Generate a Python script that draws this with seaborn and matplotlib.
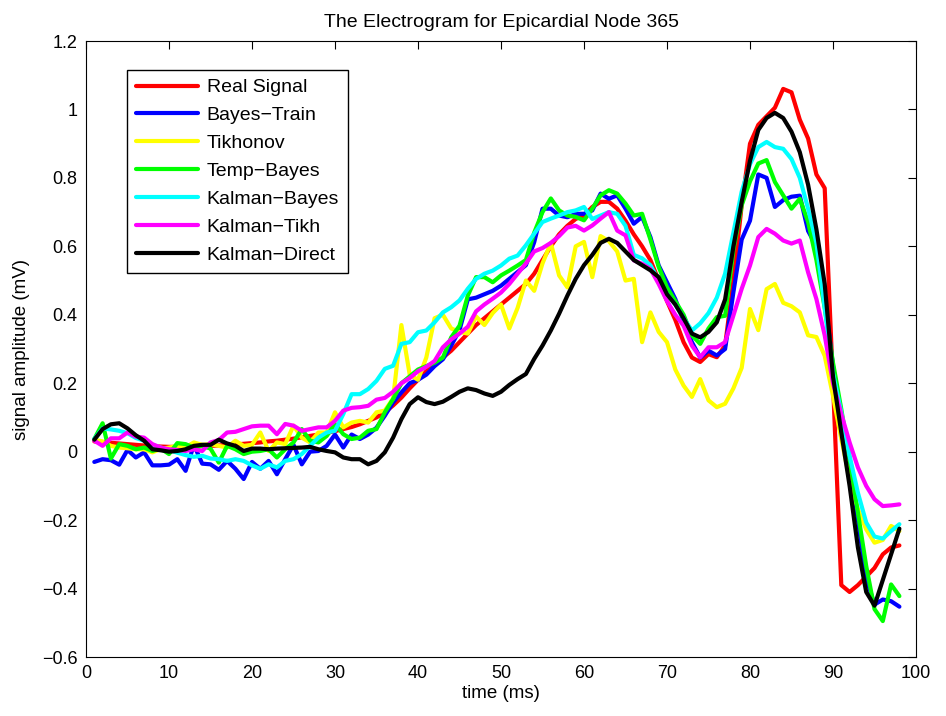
import matplotlib
matplotlib.use("Agg")
import matplotlib.pyplot as plt
import pandas as pd
import seaborn as sns

# ---------------- data ----------------
time_ms = list(range(1, 99))

real_signal = [
    0.030, 0.028, 0.026, 0.024, 0.022, 0.020, 0.018, 0.016, 0.015, 0.014,
    0.014, 0.014, 0.015, 0.016, 0.017, 0.018, 0.020, 0.021, 0.023, 0.025,
    0.027, 0.030, 0.032, 0.035, 0.038, 0.042, 0.046, 0.050, 0.055, 0.060,
    0.066, 0.072, 0.080, 0.090, 0.100, 0.115, 0.135, 0.158, 0.185, 0.210,
    0.235, 0.255, 0.275, 0.295, 0.320, 0.345, 0.370, 0.390, 0.410, 0.430,
    0.450, 0.470, 0.490, 0.520, 0.560, 0.600, 0.635, 0.660, 0.680, 0.690,
    0.715, 0.730, 0.730, 0.710, 0.675, 0.635, 0.600, 0.560, 0.500, 0.440,
    0.385, 0.320, 0.275, 0.262, 0.285, 0.276, 0.310, 0.500, 0.720, 0.900,
    0.955, 0.980, 1.005, 1.060, 1.050, 0.970, 0.915, 0.810, 0.770, 0.200,
    -0.390, -0.410, -0.390, -0.365, -0.340, -0.300, -0.280, -0.274]

bayes_train = [
    -0.030, -0.022, -0.025, -0.038, 0.005, -0.017, -0.002, -0.040, -0.040, -0.038,
    -0.022, -0.056, 0.020, -0.035, -0.037, -0.053, -0.027, -0.050, -0.080, -0.030,
    -0.050, -0.027, -0.066, -0.022, 0.020, -0.037, 0.000, 0.002, 0.017, 0.050,
    0.012, 0.050, 0.037, 0.050, 0.070, 0.105, 0.144, 0.173, 0.200, 0.210,
    0.225, 0.250, 0.270, 0.310, 0.355, 0.445, 0.450, 0.460, 0.470, 0.485,
    0.505, 0.525, 0.545, 0.612, 0.710, 0.710, 0.690, 0.685, 0.695, 0.695,
    0.705, 0.754, 0.739, 0.749, 0.710, 0.666, 0.686, 0.627, 0.544, 0.495,
    0.446, 0.380, 0.320, 0.275, 0.295, 0.281, 0.300, 0.466, 0.620, 0.675,
    0.810, 0.800, 0.715, 0.735, 0.745, 0.748, 0.645, 0.600, 0.450, 0.250,
    0.100, -0.050, -0.200, -0.370, -0.447, -0.432, -0.437, -0.453]

tikhonov = [
    0.035, 0.030, 0.017, 0.012, 0.010, 0.007, 0.007, -0.002, 0.008, 0.012,
    0.017, 0.013, 0.027, 0.020, 0.022, 0.017, 0.012, 0.032, 0.017, 0.020,
    0.056, 0.002, 0.027, 0.022, 0.076, 0.041, 0.027, 0.056, 0.056, 0.115,
    0.071, 0.085, 0.090, 0.085, 0.115, 0.120, 0.155, 0.370, 0.225, 0.210,
    0.275, 0.390, 0.400, 0.360, 0.350, 0.345, 0.395, 0.370, 0.405, 0.430,
    0.360, 0.420, 0.500, 0.470, 0.550, 0.610, 0.515, 0.480, 0.600, 0.613,
    0.510, 0.630, 0.615, 0.585, 0.500, 0.505, 0.320, 0.407, 0.350, 0.320,
    0.240, 0.193, 0.160, 0.212, 0.150, 0.130, 0.140, 0.185, 0.245, 0.417,
    0.355, 0.475, 0.490, 0.435, 0.425, 0.407, 0.340, 0.335, 0.280, 0.163,
    0.037, -0.080, -0.168, -0.227, -0.266, -0.258, -0.217, -0.232]

temp_bayes = [
    0.037, 0.083, -0.020, 0.022, 0.017, 0.007, 0.012, 0.002, 0.009, -0.007,
    0.025, 0.022, 0.012, 0.017, 0.009, -0.032, 0.017, 0.007, -0.007, 0.000,
    0.002, 0.007, -0.017, 0.007, 0.027, 0.066, 0.032, 0.027, 0.046, 0.081,
    0.051, 0.037, 0.041, 0.061, 0.066, 0.115, 0.154, 0.200, 0.220, 0.240,
    0.250, 0.260, 0.275, 0.334, 0.368, 0.456, 0.510, 0.510, 0.495, 0.515,
    0.529, 0.544, 0.560, 0.640, 0.700, 0.740, 0.705, 0.690, 0.686, 0.676,
    0.710, 0.749, 0.764, 0.754, 0.725, 0.690, 0.695, 0.620, 0.540, 0.480,
    0.440, 0.400, 0.340, 0.315, 0.360, 0.393, 0.397, 0.590, 0.720, 0.790,
    0.842, 0.852, 0.788, 0.749, 0.710, 0.739, 0.671, 0.560, 0.420, 0.260,
    0.124, -0.022, -0.178, -0.334, -0.460, -0.495, -0.388, -0.422]

kalman_bayes = [
    0.037, 0.068, 0.065, 0.061, 0.054, 0.040, 0.032, 0.020, 0.012, 0.005,
    -0.003, -0.010, -0.015, -0.012, -0.020, -0.022, -0.027, -0.022, -0.027, -0.040,
    -0.050, -0.037, -0.046, -0.027, -0.022, -0.007, 0.017, 0.041, 0.056, 0.061,
    0.110, 0.168, 0.168, 0.183, 0.207, 0.242, 0.251, 0.315, 0.320, 0.349,
    0.354, 0.378, 0.407, 0.422, 0.442, 0.476, 0.505, 0.520, 0.529, 0.544,
    0.564, 0.573, 0.603, 0.637, 0.671, 0.681, 0.690, 0.700, 0.705, 0.715,
    0.680, 0.690, 0.700, 0.695, 0.660, 0.575, 0.565, 0.545, 0.500, 0.460,
    0.430, 0.390, 0.354, 0.375, 0.405, 0.450, 0.520, 0.640, 0.760, 0.840,
    0.890, 0.905, 0.890, 0.885, 0.855, 0.800, 0.710, 0.610, 0.420, 0.230,
    0.115, -0.012, -0.120, -0.207, -0.248, -0.254, -0.232, -0.212]

kalman_tikh = [
    0.032, 0.017, 0.039, 0.039, 0.056, 0.044, 0.041, 0.022, 0.012, 0.007,
    0.005, 0.002, 0.007, 0.002, 0.027, 0.034, 0.056, 0.058, 0.066, 0.074,
    0.076, 0.076, 0.051, 0.081, 0.076, 0.061, 0.066, 0.071, 0.071, 0.090,
    0.120, 0.128, 0.130, 0.134, 0.152, 0.157, 0.175, 0.200, 0.215, 0.235,
    0.248, 0.265, 0.305, 0.328, 0.345, 0.365, 0.410, 0.430, 0.447, 0.465,
    0.490, 0.520, 0.550, 0.585, 0.595, 0.610, 0.630, 0.655, 0.660, 0.646,
    0.661, 0.681, 0.700, 0.646, 0.632, 0.559, 0.549, 0.534, 0.490, 0.440,
    0.400, 0.368, 0.310, 0.276, 0.305, 0.305, 0.320, 0.398, 0.476, 0.544,
    0.627, 0.651, 0.637, 0.617, 0.608, 0.617, 0.524, 0.446, 0.340, 0.200,
    0.110, 0.027, -0.046, -0.100, -0.139, -0.159, -0.157, -0.154]

kalman_direct = [
    0.035, 0.066, 0.080, 0.083, 0.068, 0.048, 0.032, 0.007, 0.004, 0.000,
    0.002, 0.007, 0.017, 0.020, 0.020, 0.035, 0.024, 0.017, 0.002, 0.009,
    0.009, 0.007, 0.009, 0.010, 0.011, 0.012, 0.014, 0.007, 0.002, -0.002,
    -0.017, -0.022, -0.022, -0.037, -0.027, -0.002, 0.041, 0.095, 0.139, 0.159,
    0.145, 0.139, 0.146, 0.160, 0.175, 0.185, 0.180, 0.170, 0.163, 0.175,
    0.195, 0.212, 0.227, 0.271, 0.310, 0.354, 0.403, 0.456, 0.505, 0.545,
    0.575, 0.610, 0.622, 0.610, 0.585, 0.560, 0.545, 0.530, 0.510, 0.460,
    0.430, 0.390, 0.345, 0.334, 0.350, 0.378, 0.445, 0.600, 0.730, 0.850,
    0.940, 0.975, 0.990, 0.975, 0.935, 0.875, 0.780, 0.650, 0.490, 0.220,
    0.056, -0.100, -0.280, -0.410, -0.450, -0.375, -0.300, -0.225]

series_names = ["Real Signal", "Bayes\u2212Train", "Tikhonov", "Temp\u2212Bayes",
                "Kalman\u2212Bayes", "Kalman\u2212Tikh", "Kalman\u2212Direct"]
series_values = [real_signal, bayes_train, tikhonov, temp_bayes,
                 kalman_bayes, kalman_tikh, kalman_direct]
series_colors = ["#ff0000", "#0000ff", "#ffff00", "#00ff00",
                 "#00ffff", "#ff00ff", "#000000"]

x_ticks = [0, 10, 20, 30, 40, 50, 60, 70, 80, 90, 100]
y_ticks = [-0.6, -0.4, -0.2, 0, 0.2, 0.4, 0.6, 0.8, 1, 1.2]
y_tick_labels = ["\u22120.6", "\u22120.4", "\u22120.2", "0", "0.2", "0.4",
                 "0.6", "0.8", "1", "1.2"]

# ---------------- build long-form table ----------------
frames = []
for name, vals in zip(series_names, series_values):
    frames.append(pd.DataFrame({"time": time_ms, "value": vals, "method": name}))
df = pd.concat(frames, ignore_index=True)

# ---------------- plot ----------------
sns.set_theme(style="white")
plt.rcParams["font.family"] = ["Liberation Sans", "DejaVu Sans"]
plt.rcParams["text.color"] = "black"
plt.rcParams["axes.labelcolor"] = "black"
plt.rcParams["xtick.color"] = "black"
plt.rcParams["ytick.color"] = "black"

fig = plt.figure(figsize=(9.46, 7.16), dpi=100)
ax = fig.add_axes([86 / 946, 1 - 657 / 716, 830 / 946, 616 / 716])

sns.lineplot(data=df, x="time", y="value", hue="method", hue_order=series_names,
             palette=dict(zip(series_names, series_colors)), linewidth=3,
             sort=False, estimator=None, ax=ax, legend=True)

ax.set_xlim(0, 100)
ax.set_ylim(-0.6, 1.2)
ax.set_xticks(x_ticks)
ax.set_xticklabels([str(t) for t in x_ticks])
ax.set_yticks(y_ticks)
ax.set_yticklabels(y_tick_labels)
ax.tick_params(direction="in", length=6, width=0.8, top=True, right=True,
               labelsize=13, colors="black", pad=6)
for sp in ax.spines.values():
    sp.set_color("black")
    sp.set_linewidth(0.8)

ax.set_title("The Electrogram for Epicardial Node 365", fontsize=14, pad=10,
             color="black")
ax.set_xlabel("time (ms)", fontsize=13.5, labelpad=2, color="black")
ax.set_ylabel("signal amplitude (mV)", fontsize=13.5, labelpad=9, color="black")

handles, labels = ax.get_legend_handles_labels()
leg = ax.legend(handles, labels, loc="upper left", bbox_to_anchor=(0.0494, 0.953),
                borderaxespad=0, frameon=True, fancybox=False, edgecolor="black",
                framealpha=1, fontsize=14, handlelength=3.2, handletextpad=0.45,
                labelspacing=0.53, borderpad=0.45)
leg.get_frame().set_linewidth(1.0)
for line in leg.get_lines():
    line.set_linewidth(3)
for txt in leg.get_texts():
    txt.set_color("black")

fig.savefig("out.png", dpi=100, facecolor="white")
